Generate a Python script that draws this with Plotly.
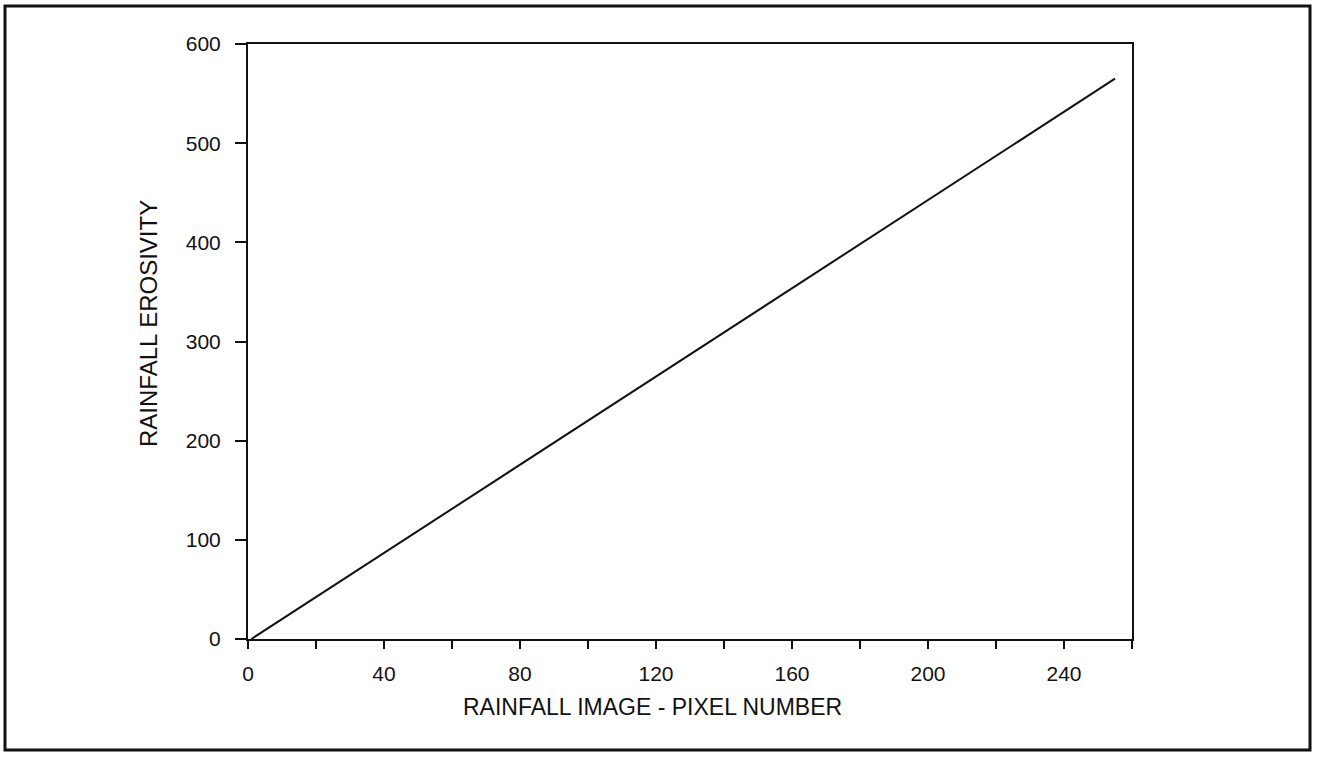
import plotly.graph_objects as go

# Calibration line: image pixel number -> rainfall erosivity
pixel_number = [1, 255]
erosivity = [0, 565]

x_tick_vals = [0, 20, 40, 60, 80, 100, 120, 140, 160, 180, 200, 220, 240, 260]
x_tick_text = ["0", "", "40", "", "80", "", "120", "", "160", "", "200", "", "240", ""]
y_tick_vals = [0, 100, 200, 300, 400, 500, 600]
y_tick_text = ["0", "100", "200", "300", "400", "500", "600"]

x_title = "RAINFALL IMAGE - PIXEL NUMBER"
y_title = "RAINFALL EROSIVITY"

W, H = 1322, 758
L, R, T, B = 248, 190, 44, 119
pw, ph = W - L - R, H - T - B

fig = go.Figure()
fig.add_trace(go.Scatter(
    x=pixel_number, y=erosivity, mode="lines",
    line=dict(color="#111111", width=2),
    showlegend=False, hoverinfo="skip",
))

font = dict(family="Liberation Sans, Arial, sans-serif", color="#111111")

fig.update_layout(
    width=W, height=H,
    margin=dict(l=L, r=R, t=T, b=B, pad=0),
    paper_bgcolor="white", plot_bgcolor="white",
    font=dict(**font, size=21),
    xaxis=dict(
        range=[0, 260], tickmode="array", tickvals=x_tick_vals, ticktext=x_tick_text,
        ticks="outside", ticklen=8, tickwidth=2, tickcolor="#111111",
        showline=True, linewidth=2, linecolor="#111111", mirror=True,
        showgrid=False, zeroline=False,
        tickfont=dict(**font, size=21), ticklabelstandoff=7,
    ),
    yaxis=dict(
        range=[0, 600], tickmode="array", tickvals=y_tick_vals, ticktext=y_tick_text,
        ticks="outside", ticklen=11, tickwidth=2, tickcolor="#111111",
        showline=True, linewidth=2, linecolor="#111111", mirror=True,
        showgrid=False, zeroline=False,
        tickfont=dict(**font, size=21), ticklabelstandoff=10,
    ),
)

# Axis titles placed in pixel terms relative to the plot area
fig.add_annotation(
    text=x_title, xref="paper", yref="paper",
    x=(652 - L) / pw, y=(H - B - 707) / ph,
    showarrow=False, xanchor="center", yanchor="middle",
    font=dict(**font, size=23),
)
fig.add_annotation(
    text=y_title, xref="paper", yref="paper",
    x=(148 - L) / pw, y=(H - B - 324) / ph,
    showarrow=False, xanchor="center", yanchor="middle", textangle=-90,
    font=dict(**font, size=24),
)

# Outer frame around the whole figure
fig.add_shape(
    type="rect", xref="paper", yref="paper",
    x0=(5 - L) / pw, x1=(1310 - L) / pw,
    y0=(H - B - 750) / ph, y1=(H - B - 6) / ph,
    line=dict(color="#111111", width=3), fillcolor="rgba(0,0,0,0)", layer="below",
)

fig.write_html("out.html")
